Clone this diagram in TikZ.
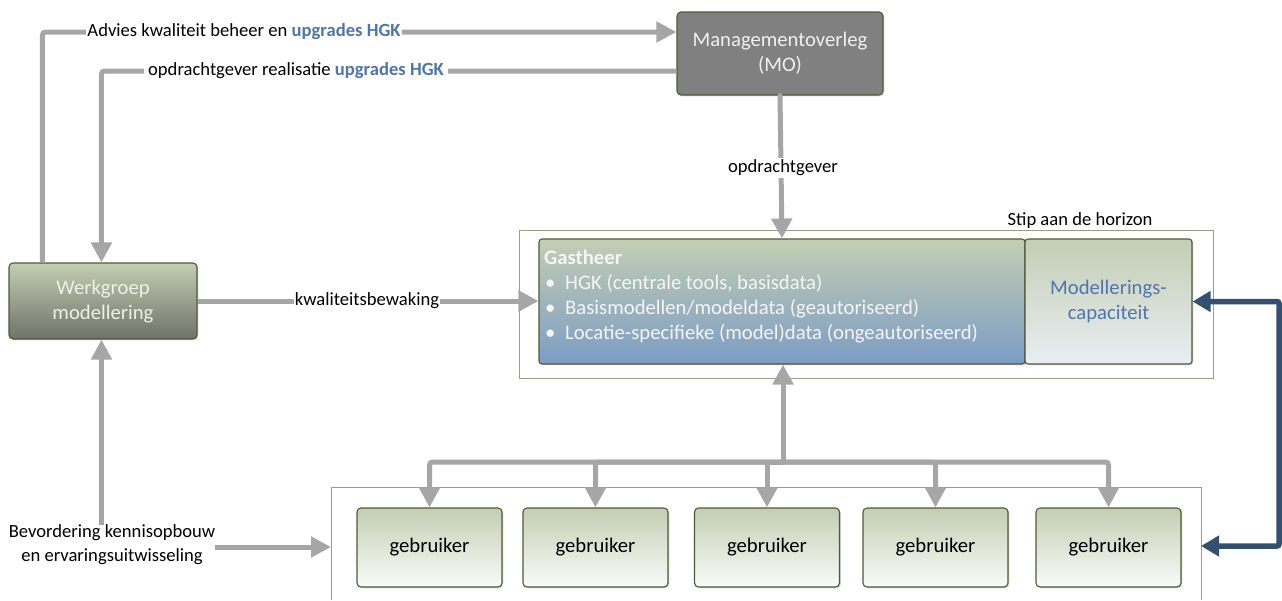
\documentclass[tikz,border=0pt]{standalone}
\usepackage{fontspec}
\setmainfont{Carlito}
\usetikzlibrary{arrows.meta,shadows,calc}

\definecolor{flow}{HTML}{A6A6A6}
\definecolor{navy}{HTML}{34506F}
\definecolor{rim}{HTML}{4E5A35}
\definecolor{sage}{HTML}{C3CEB4}
\definecolor{hgkblue}{HTML}{4F76AC}
\definecolor{framecol}{HTML}{9A9C85}
\definecolor{paletext}{HTML}{EEF1E8}
\definecolor{wgbottom}{HTML}{707268}
\definecolor{gastbottom}{HTML}{7C9CC4}
\definecolor{capbottom}{HTML}{E9EEF3}

\newcommand\bul{\makebox[21pt][l]{\hspace{1pt}\textbullet}}
\newcommand\hgk[1]{\textcolor{hgkblue}{\bfseries #1}}

\tikzset{
  box/.style={draw=rim, line width=1.1pt, rounded corners=4pt,
    drop shadow={opacity=0.3, shadow xshift=1.3pt, shadow yshift=-1.3pt},
    font=\fontsize{20.7}{25}\selectfont, align=center, inner sep=0pt},
  userbox/.style={box, top color=sage, bottom color=white!92!sage,
    minimum width=145pt, minimum height=79pt},
  flowline/.style={draw=flow, line width=5pt},
  flowarrow/.style={flowline, -{Triangle[width=20pt,length=20pt]}},
  navyarrow/.style={draw=navy, line width=5.5pt,
    {Triangle[width=20pt,length=18pt]}-{Triangle[width=20pt,length=18pt]}},
  lbl/.style={font=\fontsize{18.6}{24}\selectfont, fill=white, inner xsep=1pt, inner ysep=2pt},
  plain/.style={font=\fontsize{18.6}{24}\selectfont, inner sep=0pt, align=center},
  framebox/.style={draw=framecol, line width=0.9pt},
}

\begin{document}
\begin{tikzpicture}[x=1pt, y=-1pt]
\useasboundingbox (0,0) rectangle (1282,600);

% frames round the host group and the user group
\draw[framebox] (519,230) rectangle (1213,378);
\draw[framebox] (331,600) -- (331,487) -- (1201,487) -- (1201,600);
\node[plain, anchor=base] (stip) at (1080,225) {Stip aan de horizon};

% boxes
\node[box, fill=black!50, text=white!94!black, minimum width=206pt, minimum height=83pt]
  (mo) at (780,53.5) {Managementoverleg\\(MO)};
\node[box, top color=sage, bottom color=wgbottom, text=paletext,
  minimum width=188pt, minimum height=76pt, text depth=3pt] (wg) at (103,301) {Werkgroep\\modellering};
\node[box, rounded corners=3pt, top color=sage, bottom color=gastbottom,
  minimum width=486pt, minimum height=125pt] (gast) at (782,301.5) {};
\node[box, rounded corners=3pt, top color=sage, bottom color=capbottom, text=hgkblue,
  minimum width=167pt, minimum height=125pt] (cap) at (1108.5,301.5) {Modellerings-\\capaciteit};
\node[anchor=north west, inner sep=0pt, align=left, text=white!96!black,
  font=\fontsize{20.7}{25}\selectfont] (gtxt) at (544,250)
  {\textbf{Gastheer}\\
   \bul HGK (centrale tools, basisdata)\\
   \bul Basismodellen/modeldata (geautoriseerd)\\
   \bul Locatie-specifieke (model)data (ongeautoriseerd)};

\node[userbox] (u1) at (429.5,547.5) {gebruiker};
\node[userbox] (u2) at (595.5,547.5) {gebruiker};
\node[userbox] (u3) at (767,547.5) {gebruiker};
\node[userbox] (u4) at (935.5,547.5) {gebruiker};
\node[userbox] (u5) at (1108.5,547.5) {gebruiker};

\node[plain] (bev) at (112,545) {Bevordering kennisopbouw\\en ervaringsuitwisseling};

% connectors between MO and the working group
\coordinate (wgl) at ($(wg.north west)+(34,0)$);
\coordinate (wgr) at ($(wg.north west)+(93,0)$);
\draw[flowarrow, rounded corners=3pt] (wgl) |- (mo.west |- 0,32);
\draw[flowarrow, rounded corners=3pt] (mo.west |- 0,71) -| (wgr);
\node[lbl] (advies) at (244,32) {Advies kwaliteit beheer en \hgk{upgrades HGK}};
\node[lbl, inner xsep=4pt] (opdr) at (296,71) {opdrachtgever realisatie \hgk{upgrades HGK}};

% MO to host
\draw[flowarrow, line cap=round] (mo.south) -- (gast.north);
\node[lbl] (opg) at (783,168) {opdrachtgever};

% working group to host
\draw[flowarrow] (wg.east) -- (gast.west |- wg.east);
\node[lbl] (kwal) at (367,301) {kwaliteitsbewaking};

% knowledge sharing
\draw[flowarrow] (bev.north -| wgr) -- (wg.south -| wgr);
\draw[flowarrow] (bev.east |- 0,547) -- (331,547);

% host to the users
\coordinate (hub) at (783,462);
\draw[flowarrow] (hub) -- (gast.south -| hub);
\draw[flowarrow, rounded corners=3pt] (hub) -| (u1.north);
\draw[flowarrow, rounded corners=3pt] (hub) -| (u2.north);
\draw[flowarrow] (hub) -| (u3.north);
\draw[flowarrow, rounded corners=3pt] (hub) -| (u4.north);
\draw[flowarrow, rounded corners=3pt] (hub) -| (u5.north);

% modelling capacity and the users
\draw[navyarrow, rounded corners=2pt] (cap.east) -| (1279,546) -- (1201,546);
\end{tikzpicture}
\end{document}
